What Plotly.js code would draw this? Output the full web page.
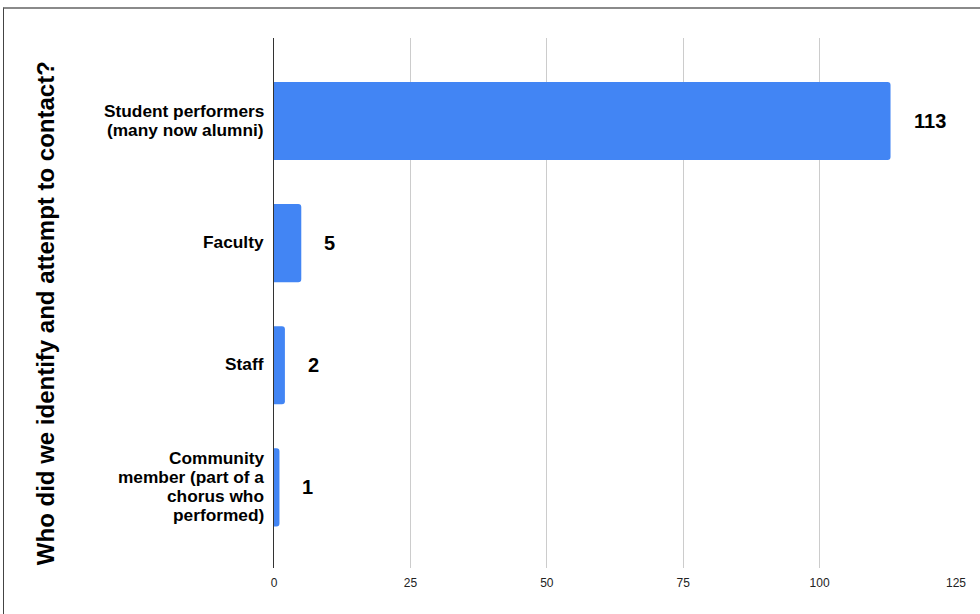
<!DOCTYPE html>
<html>
<head>
<meta charset="utf-8">
<script src="https://cdn.plot.ly/plotly-3.0.1.min.js"></script>
<style>
  html, body { margin: 0; padding: 0; background: #fff; }
  #wrap { position: relative; width: 980px; height: 614px; overflow: hidden; }
  #chart { position: absolute; left: 0; top: 0; width: 980px; height: 614px; }
  #frame { position: absolute; left: 3px; top: 7px; width: 1000px; height: 700px;
           border-top: 2px solid #8a8a8a; border-left: 1px solid #444; pointer-events: none; }
</style>
</head>
<body>
<div id="wrap">
  <div id="chart"></div>
  <div id="frame"></div>
</div>
<script>
const categories = [
  "Student performers<br>(many now alumni)",
  "Faculty",
  "Staff",
  "Community<br>member (part of a<br>chorus who<br>performed)"
];
const counts = [113, 5, 2, 1];
const xTicks = [0, 25, 50, 75, 100, 125];
const yTitle = "Who did we identify and attempt to contact?";

const FONT = "Liberation Sans, Arial, Helvetica, sans-serif";
const LINE_H = 19;

const trace = {
  type: "bar",
  orientation: "h",
  x: counts,
  y: categories,
  marker: { color: "#4285F4", cornerradius: 3 },
  width: 0.64,
  hoverinfo: "x+y"
};

const annotations = counts.map((v, i) => ({
  x: v, y: categories[i], xref: "x", yref: "y",
  text: "<b>" + v + "</b>", showarrow: false,
  xanchor: "left", yanchor: "middle", xshift: 21,
  font: { family: FONT, size: 20, color: "#000" }
}));

// Category labels, one annotation per line so the line spacing stays close to the reference
categories.forEach((cat) => {
  const lines = cat.split("<br>");
  const n = lines.length;
  lines.forEach((ln, j) => {
    annotations.push({
      xref: "paper", yref: "y", x: 0, y: cat,
      text: "<b>" + ln + "</b>", showarrow: false,
      xanchor: "right", yanchor: "middle", xshift: -8,
      yshift: ((n - 1) / 2 - j) * LINE_H + 1,
      font: { family: FONT, size: 17.3, color: "#000" }
    });
  });
});

annotations.push({
  xref: "paper", yref: "paper", x: -0.335, y: 0.48,
  text: "<b>" + yTitle + "</b>", showarrow: false, textangle: -90,
  xanchor: "center", yanchor: "middle",
  font: { family: FONT, size: 24, color: "#000" }
});

const layout = {
  width: 980, height: 614,
  margin: { l: 274, r: 24, t: 38, b: 46, pad: 0 },
  paper_bgcolor: "#fff", plot_bgcolor: "#fff",
  showlegend: false,
  xaxis: {
    range: [0, 125], tickvals: xTicks, ticktext: xTicks.map(String),
    showgrid: true, gridcolor: "#cccccc", gridwidth: 1,
    zeroline: false, showline: false, ticks: "",
    ticklabelstandoff: 6,
    tickfont: { family: FONT, size: 12, color: "#222" },
    fixedrange: true
  },
  yaxis: {
    type: "category",
    categoryorder: "array", categoryarray: categories,
    autorange: false, range: [3.66, -0.68],
    showgrid: false, zeroline: false,
    showline: true, linecolor: "#333", linewidth: 1,
    ticks: "", showticklabels: false,
    fixedrange: true
  },
  annotations: annotations
};

Plotly.newPlot("chart", [trace], layout, { displayModeBar: false, staticPlot: true });
</script>
</body>
</html>
